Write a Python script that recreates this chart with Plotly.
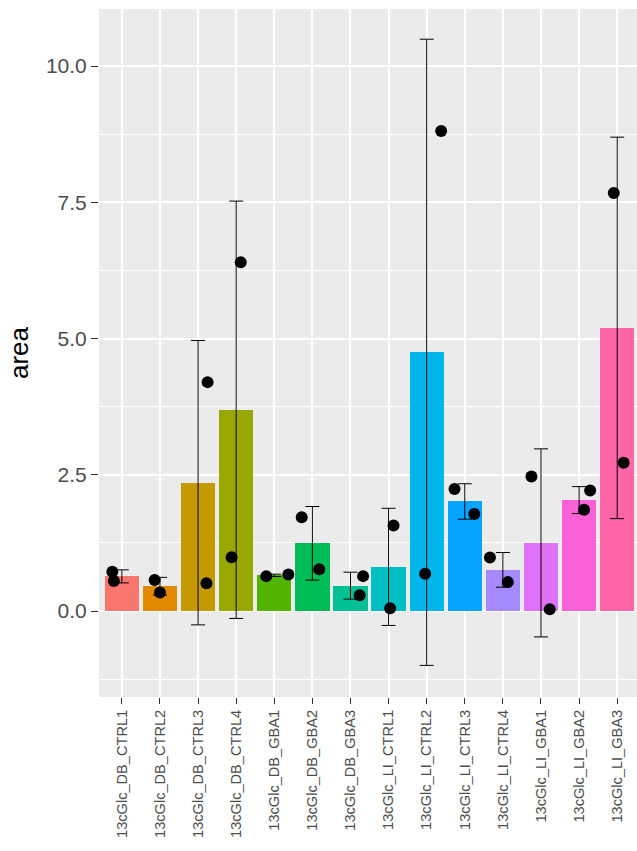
import numpy as np
import plotly.graph_objects as go

categories = ["13cGlc_DB_CTRL1", "13cGlc_DB_CTRL2", "13cGlc_DB_CTRL3", "13cGlc_DB_CTRL4",
              "13cGlc_DB_GBA1", "13cGlc_DB_GBA2", "13cGlc_DB_GBA3", "13cGlc_LI_CTRL1",
              "13cGlc_LI_CTRL2", "13cGlc_LI_CTRL3", "13cGlc_LI_CTRL4", "13cGlc_LI_GBA1",
              "13cGlc_LI_GBA2", "13cGlc_LI_GBA3"]
rep1 = [0.72, 0.57, 4.20, 0.985, 0.64, 1.72, 0.64, 1.57, 0.685, 2.24, 0.98, 2.47, 2.21, 7.67]
rep2 = [0.55, 0.34, 0.51, 6.40, 0.67, 0.765, 0.29, 0.05, 8.81, 1.78, 0.53, 0.03, 1.86, 2.72]
jitter1 = [-0.25, -0.14, 0.25, -0.12, -0.21, -0.28, 0.33, 0.13, -0.04, -0.27, -0.34, -0.25, 0.29, -0.09]
jitter2 = [-0.21, 0.0, 0.22, 0.12, 0.37, 0.18, 0.24, 0.04, 0.38, 0.25, 0.13, 0.23, 0.13, 0.17]
colors = ["#F8766D", "#E38900", "#C49A00", "#99A800", "#53B400", "#00BC56", "#00C094",
          "#00BFC4", "#00B6EB", "#06A4FF", "#A58AFF", "#DF70F8", "#FB61D7", "#FF66A8"]
ytick_vals = [0.0, 2.5, 5.0, 7.5, 10.0]
ytick_text = ["0.0", "2.5", "5.0", "7.5", "10.0"]

vals = np.array([rep1, rep2])
means = vals.mean(axis=0)
sds = vals.std(axis=0, ddof=1)
xpos = np.arange(len(categories))

fig = go.Figure()
fig.add_trace(go.Bar(x=xpos, y=means, width=0.9, marker=dict(color=colors, line=dict(width=0)),
                     showlegend=False))
fig.add_trace(go.Scatter(x=xpos, y=means, mode="markers", marker=dict(size=1, opacity=0),
                         error_y=dict(type="data", array=sds, visible=True, color="black",
                                      thickness=1, width=7),
                         showlegend=False, hoverinfo="skip"))
px_ = np.concatenate([xpos + np.array(jitter1), xpos + np.array(jitter2)])
py_ = np.concatenate([rep1, rep2])
fig.add_trace(go.Scatter(x=px_, y=py_, mode="markers",
                         marker=dict(color="black", size=12, line=dict(width=0)),
                         showlegend=False))

fig.update_layout(
    width=637, height=851,
    margin=dict(l=99, r=0, t=9, b=154),
    paper_bgcolor="white", plot_bgcolor="#EBEBEB",
    font=dict(family="Liberation Sans, Arial, sans-serif"),
    bargap=0,
)
fig.update_xaxes(range=[-0.6, 13.52], tickmode="array", tickvals=list(xpos), ticktext=categories,
                 tickangle=-90, tickfont=dict(size=14.6, color="#4D4D4D"),
                 ticks="outside", ticklen=6, tickwidth=1.2, tickcolor="#333333",
                 showgrid=True, gridcolor="white", gridwidth=2, zeroline=False, showline=False)
fig.update_yaxes(range=[-1.578, 11.047], tickmode="array", tickvals=ytick_vals, ticktext=ytick_text,
                 tickfont=dict(size=21, color="#4D4D4D"),
                 ticks="outside", ticklen=7, tickwidth=1.2, tickcolor="#333333",
                 showgrid=True, gridcolor="white", gridwidth=2, zeroline=False, showline=False,
                 minor=dict(tickmode="array", tickvals=[-1.25, 1.25, 3.75, 6.25, 8.75],
                            showgrid=True, gridcolor="white", gridwidth=1, ticks=""),
                 title=dict(text="area", font=dict(size=26, color="black"), standoff=9))
fig.write_html("out.html", config={"displayModeBar": False},
               post_script="document.body.style.margin='0';")
